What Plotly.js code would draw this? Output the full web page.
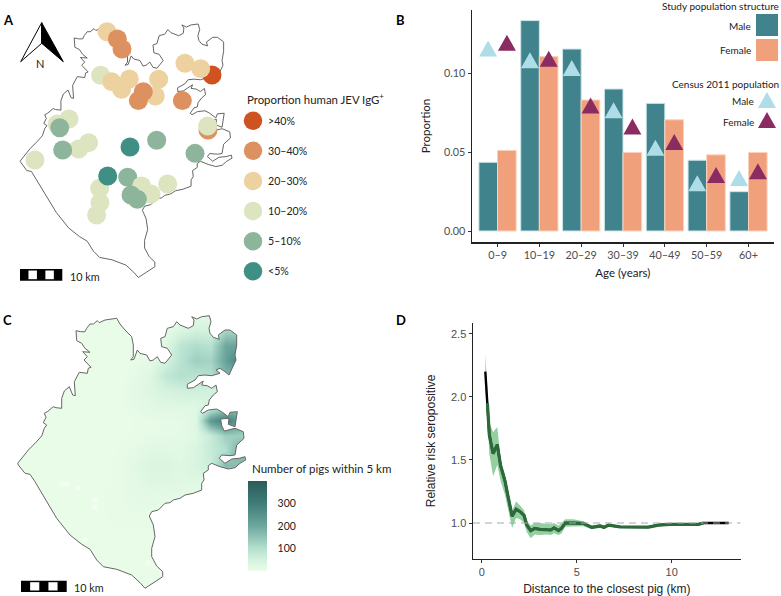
<!DOCTYPE html>
<html><head><meta charset="utf-8">
<script src="https://cdn.plot.ly/plotly-3.0.1.min.js"></script>
<style>html,body{margin:0;padding:0;background:#fff}#c{width:781px;height:596px}</style></head>
<body><div id="c"></div>
<script>
const W=781,H=596;
// ---- map outline (map units) ----
const borderX=[17.7,21.7,28.3,36,41.7,44.3,46.7,43.3,46,44.3,47.3,53.3,56,61.7,61.7,64.3,69.3,72.7,75.3,74.3,78.3,79.3,87.3,88.3,91,86.7,84,87.3,82.7,90,85,81.7,76.7,76,80.7,85,86.7,90,93.3,97.3,99.3,105,116.7,120,125,131.7,133.3,133.3,130.7,134,137.3,140,146.7,150,153.3,157.3,160.7,165,168.3,171.7,167.3,161.7,160.7,165,167.3,173.3,176.7,180,188.3,193.3,194,191.7,196.7,201.7,209.3,211,209,210,213.3,219.3,218.3,225,230,236.7,236.7,235,236,231.7,229,225,220,216,220,211.7,205,198.3,195,187.3,187.3,193.3,200.7,203.3,201.7,207.3,211.7,216,217.3,213.3,209.3,208.3,205,200.7,202.7,208.3,216.7,221.7,228.3,230,237.3,235,228.3,229,220.7,221.7,224.3,235,243.3,244,236.7,235,230,221.7,219.3,225,231.7,239.3,245,245.7,240,235,228.3,220,211.7,208.3,208.3,203.3,204,201.7,201.7,193.3,185,180,173.3,170,165,158.3,151.7,149.3,153.3,155,151.7,151.7,156.7,162.7,162.7,145,140,131.7,116.7,103.3,96.7,90,81.7,70,56.7,50.7,43.3,35,30,25,18.3,17.7];
const borderY=[463.3,458.3,450,442.3,436,428.3,425,422.7,417.3,413.3,411.7,406.7,407.7,408.3,398.3,391,386.7,395,395.7,381.7,375,372.3,373.3,368.3,367.3,363.3,360,356.7,351.7,352.3,348.3,343.3,340.7,330.7,331.7,331.7,328.3,324,324,320.7,322.7,320,318.3,324,330,336.7,345,356.7,360,359.3,350,353.3,355,361,360,356.7,362.3,363.3,359,355,348.3,346.7,338.3,336.7,328.3,326.7,321.7,325,328.3,325.7,320,316.7,319,316.7,315.7,321.7,328.3,333.3,337.3,339.3,335,330,330,335,345,355,360,368.3,375,371.7,368.3,370,373.3,375.7,375,375.7,380,384.3,388.3,387.7,382.3,381,385,385.7,388.3,385,391.7,395,400,405,405.7,411.7,413.3,410,409,411.7,416.7,412.3,411.7,426.7,424.3,418.3,419,425.7,431,428.3,431.7,438.3,445,455,455.7,455,458.3,463.3,459,458.3,456.7,460,463.3,467.7,469,466.7,463.3,465.7,470,473.3,480,483.3,490,493.3,495,498.3,500,502.7,503.3,510,511.7,516,525,536.7,548.3,556.7,566,571.7,576.7,588.3,582.7,575,569.3,566.7,560,549.3,544.3,535,518.3,508.3,495,481.7,474.3,473.3,465,463.3];
// ---- panel A: survey clusters ----
const clusterX=[224.2,195.1,212,111.3,122.4,127.4,104.4,116.3,135.3,127,166.8,163.2,150.3,145,192.3,219.9,219.5,57.8,70.4,60.4,33.8,80.8,91.5,63.6,164.7,136,205.9,103.4,103.7,100.1,112,133.5,148.5,158.6,176.5,137.1,143.9];
const clusterY=[370.5,358,363.7,324,331.8,342.6,370.9,377.7,374.8,386,375.2,393.1,388.5,398.1,398.1,429.7,425.4,423.2,417.9,427.2,461.9,450.1,443.3,451.2,440.8,448,454.8,492.4,507.8,521.1,479.1,480.6,489.9,498.5,487.8,499.6,504.2];
const clusterClass=[0,2,2,2,1,1,3,2,2,2,2,2,1,1,1,1,3,3,3,4,3,3,3,4,4,5,4,3,3,3,5,4,3,3,3,4,4];
const seroLabels=['>40%','30–40%','20–30%','10–20%','5–10%','<5%'];
const seroColors=['#cf5320','#de9160','#edd2a0','#dce5bf','#8db59b','#408f85'];
// ---- panel B ----
const ageLabels=['0–9','10–19','20–29','30–39','40–49','50–59','60+'];
const studyMale=[0.0435,0.1332,0.1152,0.0899,0.0808,0.0448,0.0249];
const studyFemale=[0.051,0.1104,0.0829,0.0497,0.0704,0.0482,0.0497];
const censusMale=[0.1156,0.1081,0.1032,0.0764,0.0527,0.0303,0.0336];
const censusFemale=[0.1192,0.1091,0.0795,0.0662,0.0564,0.0355,0.0378];
// ---- panel C ----
const pigX=[15,30,45,60,75,90,105,120,135,150,165,180,195,210,225,240,255];
const pigY=[315,330,345,360,375,390,405,420,435,450,465,480,495,510,525,540,555,570,585];
const pigGrid=[
[5,5,5,5,5,5,5,5,5,5,8,12,15,20,30,50,30],
[5,5,5,5,5,5,5,5,5,6,12,35,50,45,120,110,40],
[5,5,5,5,5,5,5,5,6,8,25,85,105,95,200,210,80],
[5,5,5,5,5,5,5,5,6,12,45,90,130,120,210,300,90],
[5,5,5,5,5,5,5,5,10,28,80,100,90,100,170,170,50],
[5,5,5,5,5,5,5,6,15,30,45,55,55,50,50,40,20],
[5,5,5,5,5,5,5,6,10,20,25,25,25,50,100,120,20],
[5,5,5,5,5,5,5,5,7,8,10,10,25,230,300,220,50],
[5,5,5,5,5,5,5,6,7,9,10,12,25,70,130,130,40],
[5,5,5,5,5,5,6,7,12,22,24,20,35,70,100,200,120],
[5,5,5,5,5,5,6,8,20,36,36,25,40,60,170,150,80],
[5,5,5,5,5,5,6,8,15,28,28,22,25,20,20,20,10],
[5,5,5,5,5,5,7,9,13,16,15,13,12,10,8,5,5],
[5,5,5,5,5,5,7,9,9,9,8,6,5,5,5,5,5],
[5,5,5,5,5,5,6,7,7,7,6,5,5,5,5,5,5],
[5,5,5,5,5,5,5,6,6,6,5,5,5,5,5,5,5],
[5,5,5,5,5,5,5,5,5,5,5,5,5,5,5,5,5],
[5,5,5,5,5,5,5,5,5,5,5,5,5,5,5,5,5],
[5,5,5,5,5,5,5,5,5,5,5,5,5,5,5,5,5]];
const gapX=[62,67,78,95,95,85,148];
const gapY=[484,484,488,500,507,540,563];
const pigTicks=[100,200,300];
// ---- panel D ----
const distKm=[0.19,0.3,0.4,0.6,0.82,1,1.23,1.4,1.6,1.81,2.02,2.23,2.37,2.58,2.79,3.07,3.42,3.63,3.81,4.04,4.21,4.39,4.82,5.35,5.79,6.23,6.44,6.67,7.28,7.81,8.77,9.3,9.91,11.4,11.67,13];
const riskMid=[2.2,1.95,1.7,1.55,1.62,1.45,1.33,1.2,1.055,1.11,1.09,1.06,0.985,0.94,0.958,0.95,0.95,0.945,0.962,0.94,0.96,1,1,0.997,0.966,0.977,0.966,0.984,0.97,0.968,0.968,0.984,0.99,0.99,1,1];
const riskHi=[2.34,2.05,1.8,1.72,1.76,1.5,1.38,1.24,1.1,1.17,1.14,1.1,1.02,0.98,1,1,0.99,0.99,1,0.98,1,1.03,1.03,1.015,0.98,0.99,0.98,0.99,0.976,0.974,0.974,0.99,0.994,0.994,1.003,1.003];
const riskLo=[2.05,1.85,1.55,1.37,1.46,1.33,1.22,1.1,0.96,1.04,1.03,1,0.93,0.88,0.91,0.905,0.91,0.905,0.92,0.905,0.92,0.97,0.975,0.975,0.95,0.96,0.95,0.97,0.964,0.962,0.962,0.978,0.986,0.986,0.997,0.997];

const FONT='Lato, "Open Sans", sans-serif', HELV='"Liberation Sans", Arial, sans-serif';
const dom=(a,b,t)=>t==='x'?[a/W,b/W]:[1-b/H,1-a/H];
const px=v=>v/W, py=v=>1-v/H;
const hidden=(d,r)=>({domain:d,range:r,visible:false,fixedrange:true});

// triangles drawn through the data scales
function tris(xs,ys,hx,hy){const X=[],Y=[];xs.forEach((x,i)=>{X.push(x-hx,x+hx,x,x-hx,null);Y.push(ys[i]-hy,ys[i]-hy,ys[i]+hy,ys[i]-hy,null)});return{x:X,y:Y}}

const ageIdx=ageLabels.map((_,i)=>i);
const t=[];
// C
t.push({type:'heatmap',x:pigX,y:pigY,z:pigGrid,zmin:0,zmax:400,zsmooth:'best',xaxis:'x3',yaxis:'y3',
 colorscale:[[0,'#ebfde9'],[0.125,'#d3f2de'],[0.25,'#b4e0cf'],[0.5,'#6da79d'],[0.75,'#3f7d78'],[1,'#2b5c5a']],
 colorbar:{x:px(248),xanchor:'left',xpad:0,y:py(481),yanchor:'top',ypad:0,lenmode:'pixels',len:90,thickness:19,thicknessmode:'pixels',outlinewidth:0,
  tickvals:pigTicks,ticks:'outside',tickcolor:'#fff',ticklen:9,tickwidth:1,tickfont:{family:FONT,size:10.5,color:'#222'}}});
t.push({x:gapX,y:gapY,xaxis:'x3',yaxis:'y3',mode:'markers',marker:{size:6,color:'#fff',opacity:0.45},showlegend:false});
const mx=[5,5,265,265,5,null].concat(borderX), my=[305,595,595,305,305,null].concat(borderY);
t.push({x:mx,y:my,xaxis:'x3',yaxis:'y3',mode:'lines',fill:'toself',fillcolor:'#fff',line:{width:0,color:'#fff'},showlegend:false});
t.push({x:borderX,y:borderY,xaxis:'x3',yaxis:'y3',mode:'lines',line:{color:'#666',width:1},showlegend:false});
// A
t.push({x:borderX,y:borderY,xaxis:'x',yaxis:'y',mode:'lines',line:{color:'#555',width:0.9},showlegend:false});
t.push({x:clusterX,y:clusterY,xaxis:'x',yaxis:'y',mode:'markers',marker:{size:19,color:clusterClass.map(c=>seroColors[c]),line:{width:0}},showlegend:false});
// B
t.push({type:'bar',x:ageIdx,y:studyMale,name:'Male',xaxis:'x2',yaxis:'y2',marker:{color:'#40838d',line:{color:'#cde6e8',width:1}},showlegend:false,offsetgroup:'m'});
t.push({type:'bar',x:ageIdx,y:studyFemale,name:'Female',xaxis:'x2',yaxis:'y2',marker:{color:'#f1a07c',line:{color:'#fad2bc',width:1}},showlegend:false,offsetgroup:'f'});
const tm=tris(ageIdx.map(i=>i-0.225),censusMale,0.215,0.00506), tf=tris(ageIdx.map(i=>i+0.225),censusFemale,0.215,0.00506);
t.push({x:tm.x,y:tm.y,xaxis:'x2',yaxis:'y2',mode:'lines',fill:'toself',fillcolor:'#aedde8',line:{width:0},showlegend:false});
t.push({x:tf.x,y:tf.y,xaxis:'x2',yaxis:'y2',mode:'lines',fill:'toself',fillcolor:'#8a2c61',line:{width:0},showlegend:false});
// D
t.push({x:distKm.concat(distKm.slice().reverse()),y:riskHi.concat(riskLo.slice().reverse()),xaxis:'x4',yaxis:'y4',mode:'lines',fill:'toself',fillcolor:'#93cfa0',line:{width:0},showlegend:false});
t.push({x:distKm,y:riskMid,xaxis:'x4',yaxis:'y4',mode:'lines',line:{color:'#000',width:2.4},showlegend:false});
t.push({x:distKm.slice(1,-1),y:riskMid.slice(1,-1),xaxis:'x4',yaxis:'y4',mode:'lines',line:{color:'#2c6a3c',width:3.2},showlegend:false});
t.push({x:[-0.46,13.63],y:[1,1],xaxis:'x4',yaxis:'y4',mode:'lines',line:{color:'#aaa',width:1.1,dash:'7px,5px'},showlegend:false});
// page-space keys
const keyY=seroLabels.map((_,i)=>120.7+i*30.12);
t.push({x:seroLabels.map(()=>253),y:keyY,xaxis:'x5',yaxis:'y5',mode:'markers',marker:{size:18.5,color:seroColors},showlegend:false});
const k1=tris([767],[100],9,-8),k2=tris([767],[120],9,-8);
t.push({x:k1.x,y:k1.y,xaxis:'x5',yaxis:'y5',mode:'lines',fill:'toself',fillcolor:'#aedde8',line:{width:0},showlegend:false});
t.push({x:k2.x,y:k2.y,xaxis:'x5',yaxis:'y5',mode:'lines',fill:'toself',fillcolor:'#8a2c61',line:{width:0},showlegend:false});
// north arrow
t.push({x:[41.7,20.7,41.7,41.7],y:[22.7,61.7,43.3,22.7],xaxis:'x5',yaxis:'y5',mode:'lines',fill:'toself',fillcolor:'#fff',line:{color:'#000',width:1},showlegend:false});
t.push({x:[41.7,63.3,41.7,41.7],y:[22.7,61.7,43.3,22.7],xaxis:'x5',yaxis:'y5',mode:'lines',fill:'toself',fillcolor:'#000',line:{color:'#000',width:1},showlegend:false});

const ann=[];
function T(text,x,y,anchor,size,opt={}){ann.push(Object.assign({text,xref:'paper',yref:'paper',x:px(x),y:py(y),xanchor:anchor,yanchor:'middle',showarrow:false,align:anchor==='right'?'right':'left',font:{family:opt.family||FONT,size,color:opt.color||'#222'},borderpad:0},opt.extra||{}))}
T('<b>A</b>',2,20,'left',13,{color:'#000'});T('<b>B</b>',395,20,'left',13,{color:'#000'});T('<b>C</b>',2,320,'left',13,{color:'#000'});T('<b>D</b>',395,320,'left',13,{color:'#000'});
T('N',39.5,64,'center',11);
T('10 km',69,276,'left',10.8);T('10 km',73,587,'left',10.8);
T('Proportion human JEV IgG<sup>+</sup>',245.5,98.5,'left',11.4);
seroLabels.forEach((l,i)=>T(l,266.5,keyY[i],'left',10.6));
T('Number of pigs within 5 km',250.5,468,'left',11.5);
T('Study population structure',780,6,'right',10);
T('Male',752,26,'right',10);T('Female',752,50,'right',10);
T('Census 2011 population',780,84,'right',10);
T('Male',755,101,'right',10);T('Female',755,122,'right',10);

const shapes=[];
function R(x0,y0,x1,y1,c){shapes.push({type:'rect',xref:'paper',yref:'paper',x0:px(x0),x1:px(x1),y0:py(y0),y1:py(y1),fillcolor:c,line:{width:0},layer:'above'})}
function bar(x0,x1,y0,y1){const w=(x1-x0)/5;R(x0,y0,x1,y1,'#000');R(x0+w,y0+1.5,x0+2*w,y1-1.5,'#fff');R(x0+3*w,y0+1.5,x0+4*w,y1-1.5,'#fff')}
bar(20,62.3,269,280.7);bar(21,66.7,580.7,592);
R(756,14,778,36,'#40838d');R(756,39,778,61,'#f1a07c');
pigTicks.forEach(v=>{const y=571-90*v/400;R(248,y-0.5,252,y+0.5,'#fff');R(263,y-0.5,267,y+0.5,'#fff')});

const axB={showline:true,linecolor:'#222',linewidth:1.5,ticks:'outside',ticklen:3,tickcolor:'#333',tickwidth:1,showgrid:false,zeroline:false,tickfont:{family:FONT,size:10.8,color:'#4d4d4d'},fixedrange:true,automargin:false};
const axD=Object.assign({},axB,{tickfont:{family:HELV,size:11,color:'#4d4d4d'},ticklen:3});
const layout={width:W,height:H,margin:{l:0,r:0,t:0,b:0},paper_bgcolor:'#fff',plot_bgcolor:'rgba(0,0,0,0)',showlegend:false,barmode:'group',bargap:0.11,bargroupgap:0.0,
 xaxis:hidden(dom(0,390,'x'),[-3.8,415.6]),yaxis:hidden(dom(0,296,'y'),[608.2,289.9]),
 xaxis3:Object.assign(hidden(dom(0,390,'x'),[0,390]),{anchor:'y3'}),yaxis3:Object.assign(hidden(dom(300,596,'y'),[596,300]),{anchor:'x3'}),
 xaxis5:Object.assign(hidden([0,1],[0,W]),{anchor:'y5'}),yaxis5:Object.assign(hidden([0,1],[H,0]),{anchor:'x5'}),
 xaxis2:Object.assign({},axB,{domain:dom(472,773.6,'x'),range:[-0.61,6.6],anchor:'y2',tickvals:ageIdx,ticktext:ageLabels,title:{text:'Age (years)',standoff:8,font:{family:FONT,size:11.5,color:'#222'}}}),
 yaxis2:Object.assign({},axB,{domain:dom(10,242,'y'),range:[-0.00696,0.1399],anchor:'x2',tickvals:[0,0.05,0.1],tickformat:'.2f',title:{text:'Proportion',standoff:11,font:{family:FONT,size:11.5,color:'#222'}}}),
 xaxis4:Object.assign({},axD,{domain:dom(473,740.7,'x'),range:[-0.458,13.63],anchor:'y4',tickvals:[0,5,10],title:{text:'Distance to the closest pig (km)',standoff:8,font:{family:HELV,size:12,color:'#222'}}}),
 yaxis4:Object.assign({},axD,{domain:dom(323,558.7,'y'),range:[0.7175,2.585],anchor:'x4',tickvals:[1,1.5,2,2.5],tickformat:'.1f',title:{text:'Relative risk seropositive',standoff:13,font:{family:HELV,size:12,color:'#222'}}}),
 annotations:ann,shapes:shapes};
Plotly.newPlot('c',t,layout,{staticPlot:true,displayModeBar:false});
</script></body></html>
